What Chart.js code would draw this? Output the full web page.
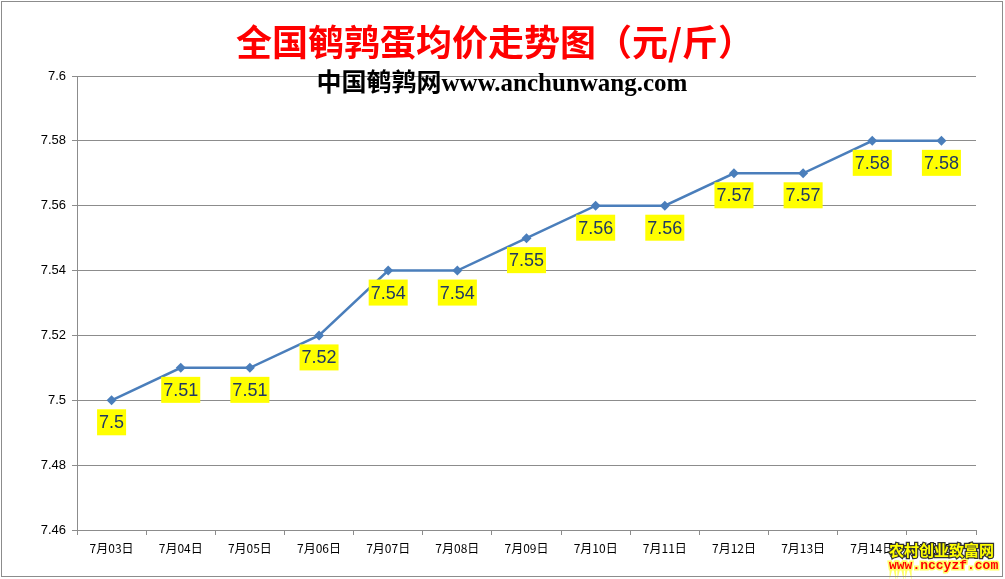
<!DOCTYPE html>
<html>
<head>
<meta charset="utf-8">
<script src="https://cdn.jsdelivr.net/npm/chart.js@4/dist/chart.umd.min.js"></script>
<style>
    html, body { margin: 0; padding: 0; background: #fff; }
    #wrap { width: 1005px; height: 579px; position: relative; }
</style>
</head>
<body>
<div id="wrap"><canvas id="priceChart"></canvas></div>
<script>
var days = ['7月03日', '7月04日', '7月05日', '7月06日', '7月07日', '7月08日', '7月09日',
    '7月10日', '7月11日', '7月12日', '7月13日', '7月14日', '7月15日'];
var prices = [7.5, 7.51, 7.51, 7.52, 7.54, 7.54, 7.55, 7.56, 7.56, 7.57, 7.57, 7.58, 7.58];
var yTickLabels = ['7.46', '7.48', '7.5', '7.52', '7.54', '7.56', '7.58', '7.6'];
var titleText = '全国鹌鹑蛋均价走势图（元/斤）';
var subText = '中国鹌鹑网www.anchunwang.com';

// yellow value boxes under each point, plus titles and border
var decor = {
    id: 'decor',
    afterDatasetsDraw: function (chart) {
        var ctx = chart.ctx;
        var meta = chart.getDatasetMeta(0);
        ctx.save();
        ctx.font = '18px "Liberation Sans", Arial, sans-serif';
        ctx.textAlign = 'center';
        ctx.textBaseline = 'middle';
        meta.data.forEach(function (pt, i) {
            var txt = String(prices[i]);
            var w = ctx.measureText(txt).width + 4;
            var cy = pt.y + 22;
            ctx.fillStyle = '#ffff00';
            ctx.fillRect(pt.x - w / 2, cy - 13, w, 26);
            ctx.fillStyle = '#1f3864';
            ctx.fillText(txt, pt.x, cy + 1);
        });
        ctx.restore();
    },
    afterDraw: function (chart) {
        var ctx = chart.ctx;
        ctx.save();
        ctx.textAlign = 'center';
        ctx.textBaseline = 'middle';
        ctx.fillStyle = '#ff0000';
        ctx.font = 'bold 36px "Noto Sans CJK SC", sans-serif';
        ctx.fillText(titleText, 495, 42);

        ctx.fillStyle = '#000';
        ctx.font = 'bold 25px "Liberation Serif", "Noto Sans CJK SC", serif';
        ctx.fillText(subText, 502, 85);

        // watermark
        ctx.textAlign = 'left';
        ctx.font = 'bold 15px "Noto Sans CJK SC", sans-serif';
        ctx.lineWidth = 2.5;
        ctx.strokeStyle = '#333';
        ctx.strokeText('农村创业致富网', 889, 550);
        ctx.fillStyle = '#ffff00';
        ctx.fillText('农村创业致富网', 889, 550);
        ctx.font = 'bold 13px "Liberation Mono", "DejaVu Sans Mono", monospace';
        ctx.strokeStyle = '#ffff66';
        ctx.lineWidth = 3;
        ctx.strokeText('www.nccyzf.com', 889, 566);
        ctx.fillStyle = '#ff0000';
        ctx.fillText('www.nccyzf.com', 889, 566);

        ctx.strokeStyle = '#8c8c8c';
        ctx.lineWidth = 1;
        ctx.strokeRect(1.5, 1.5, 1001, 575);
        ctx.restore();
    }
};

new Chart(document.getElementById('priceChart').getContext('2d'), {
    type: 'line',
    data: {
        labels: days,
        datasets: [{
            data: prices,
            borderColor: '#4a7ebb',
            backgroundColor: '#4a7ebb',
            borderWidth: 2.5,
            tension: 0,
            pointStyle: 'rectRot',
            pointRadius: 5,
            pointBorderWidth: 0,
            pointBackgroundColor: '#4a7ebb'
        }]
    },
    options: {
        responsive: true,
        maintainAspectRatio: false,
        animation: false,
        events: [],
        layout: { padding: { left: 0, top: 76, right: 29, bottom: 0 } },
        plugins: { legend: { display: false }, tooltip: { enabled: false } },
        scales: {
            x: {
                offset: true,
                afterFit: function (s) { s.height = 49; },
                grid: { offset: true, drawOnChartArea: false, drawTicks: true, tickLength: 5, color: '#8c8c8c' },
                border: { color: '#8c8c8c' },
                ticks: {
                    color: '#000', padding: 6, maxRotation: 0, autoSkip: false,
                    font: { size: 12, family: '"Noto Sans CJK SC", sans-serif' }
                }
            },
            y: {
                min: 7.46,
                max: 7.6,
                afterFit: function (s) { s.width = 77; },
                grid: { color: '#8c8c8c', tickLength: 5 },
                border: { color: '#8c8c8c' },
                ticks: {
                    stepSize: 0.02,
                    color: '#000',
                    padding: 6,
                    font: { size: 13, family: '"Liberation Sans", Arial, sans-serif' },
                    callback: function (v, i) { return yTickLabels[i]; }
                }
            }
        }
    },
    plugins: [decor]
});
</script>
</body>
</html>
